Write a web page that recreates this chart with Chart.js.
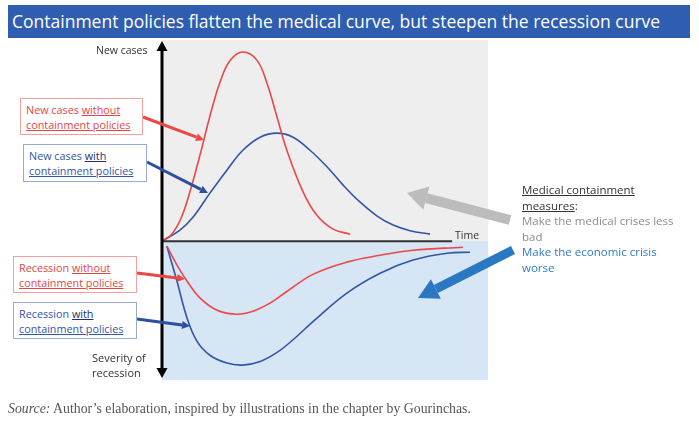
<!DOCTYPE html>
<html>
<head>
<meta charset="utf-8">
<script src="https://cdn.jsdelivr.net/npm/chart.js@4/dist/chart.umd.min.js"></script>
<style>
  body { margin: 0; background: #fff; }
  #wrap { position: relative; width: 699px; height: 434px; overflow: hidden; font-family: "Open Sans", sans-serif; }
  #myChart { position: absolute; left: 0; top: 0; }
  .title { position: absolute; left: 8px; top: 5px; width: 682px; height: 33px; background: #2f5db0;
           color: #fff; font-size: 17.5px; line-height: 33px; padding-left: 4px; box-sizing: border-box; white-space: nowrap; }
  .lbl { position: absolute; font-size: 10.5px; color: #333; white-space: nowrap; line-height: 15px; }
  .box { position: absolute; background: #fff; font-size: 10.8px; line-height: 15px; padding: 3px 5px; box-sizing: border-box; white-space: nowrap; }
  .red { color: #e54545; border: 1px solid #f2a0a0; }
  .blue { color: #3556a6; border: 1px solid #9aabd3; }
  u { text-underline-offset: 1px; }
  .note { position: absolute; left: 522px; top: 182px; font-size: 11.5px; line-height: 15.5px; white-space: nowrap; }
  .source { position: absolute; left: 8px; top: 401px; font-family: "Liberation Serif", serif; font-size: 13.8px; color: #555; white-space: nowrap; }
</style>
</head>
<body>
<div id="wrap">
  <canvas id="myChart" width="699" height="434"></canvas>
  <div class="title">Containment policies flatten the medical curve, but steepen the recession curve</div>

  <div class="lbl" style="left:96px; top:43px;">New cases</div>
  <div class="lbl" style="left:92px; top:350px; font-size:11px;">Severity of<br>recession</div>
  <div class="lbl" style="left:455px; top:228px; font-size:10.5px;">Time</div>

  <div class="box red" style="left:20px; top:98px; width:123px; height:37px;">New cases <u>without</u><br><u>containment policies</u></div>
  <div class="box blue" style="left:23px; top:144px; width:124px; height:38px;">New cases <u style="color:#1f2f70">with</u><br><u>containment policies</u></div>
  <div class="box red" style="left:13px; top:256px; width:124px; height:37px;">Recession <u>without</u><br><u>containment policies</u></div>
  <div class="box blue" style="left:13px; top:302px; width:124px; height:37px;">Recession <u style="color:#1f2f70">with</u><br><u>containment policies</u></div>

  <div class="note">
    <div style="color:#333;"><u>Medical containment</u></div>
    <div style="color:#333;"><u>measures</u>:</div>
    <div style="color:#8c8c8c;">Make the medical crises less</div>
    <div style="color:#8c8c8c;">bad</div>
    <div style="color:#2f7bc2;">Make the economic crisis</div>
    <div style="color:#2f7bc2;">worse</div>
  </div>

  <div class="source"><i>Source:</i> Author’s elaboration, inspired by illustrations in the chapter by Gourinchas.</div>
</div>

<script>
const ctx = document.getElementById('myChart');

// new cases, without containment (time, cases)
const timeCasesNoPolicy = [0, 3, 6, 9, 12, 15, 18, 21, 24.8, 29.1, 32.2, 35.3, 38.3, 43.3, 47.5, 52.5, 57.7]
const casesNoPolicy = [0, 3.5, 12, 27, 45, 64, 80, 90, 94, 90, 78.5, 61.6, 45.2, 24.4, 12.9, 6, 3.5]

// new cases, with containment
const timeCasesPolicy = [0, 5.5, 9.5, 14.7, 19.9, 24.8, 30.1, 35.3, 40.2, 45.4, 50.6, 55.5, 60.7, 66, 70.9, 76.1, 82.2]
const casesPolicy = [0, 5.5, 11.9, 23.9, 35.3, 45.2, 51.7, 53.7, 51.7, 45.2, 37, 28, 19.5, 12.5, 8, 5.2, 3.5]

// recession, without containment (negative = deeper)
const timeRecNoPolicy = [1.5, 4.6, 7.7, 11.7, 16.9, 23, 27.9, 33.1, 38.3, 46.3, 56.7, 66.9, 77, 92.3]
const recNoPolicy = [-2.5, -11.9, -19.9, -28.3, -34.3, -36.3, -34.8, -30.8, -25, -16.5, -10.4, -7, -4.5, -3]

// recession, with containment
const timeRecPolicy = [1.5, 4.6, 7.7, 10.7, 14.7, 19.9, 24.8, 30.1, 35.3, 40.2, 46.3, 56.7, 66.9, 77, 87.4, 94.5]
const recPolicy = [-2.5, -19.9, -38.3, -49.7, -56.7, -60.6, -61.6, -59.8, -55.3, -49, -40, -25.8, -15.9, -9.4, -6, -5.5]

const TIME_AXIS_END = 89

const toPoints = (xs, ys) => xs.map((x, i) => ({ x: x, y: ys[i] }))

const RED = '#ec4747'
const BLUE = '#3454a5'

const drawArrow = (c, x1, y1, x2, y2, width, color, headLen, headW) => {
    const ang = Math.atan2(y2 - y1, x2 - x1)
    const bx = x2 - headLen * Math.cos(ang)
    const by = y2 - headLen * Math.sin(ang)
    c.save()
    c.strokeStyle = color
    c.fillStyle = color
    c.lineWidth = width
    c.beginPath()
    c.moveTo(x1, y1)
    c.lineTo(bx, by)
    c.stroke()
    c.beginPath()
    c.moveTo(x2, y2)
    c.lineTo(bx + headW / 2 * Math.sin(ang), by - headW / 2 * Math.cos(ang))
    c.lineTo(bx - headW / 2 * Math.sin(ang), by + headW / 2 * Math.cos(ang))
    c.closePath()
    c.fill()
    c.restore()
}

const backdrop = {
    id: 'backdrop',
    beforeDatasetsDraw(chart) {
        const { ctx: c, chartArea: a, scales } = chart
        const y0 = scales.y.getPixelForValue(0)
        c.save()
        c.fillStyle = '#eeeeee'
        c.fillRect(a.left, a.top, a.right - a.left, y0 - a.top)
        c.fillStyle = '#d6e6f4'
        c.fillRect(a.left, y0, a.right - a.left, a.bottom - y0)
        c.restore()
    },
    afterDatasetsDraw(chart) {
        const { ctx: c, chartArea: a, scales } = chart
        const x0 = scales.x.getPixelForValue(0)
        const y0 = scales.y.getPixelForValue(0)
        const xEnd = scales.x.getPixelForValue(TIME_AXIS_END)

        // time axis
        c.save()
        c.strokeStyle = '#333'
        c.lineWidth = 2
        c.beginPath()
        c.moveTo(x0, y0)
        c.lineTo(xEnd, y0)
        c.stroke()
        c.restore()

        // vertical axis, arrows both ways
        drawArrow(c, x0, y0, x0, a.top + 1, 3, '#000', 10, 11)
        drawArrow(c, x0, y0, x0, a.bottom - 2, 3, '#000', 10, 11)

        // callout arrows
        drawArrow(c, 143, 117, 204, 140, 3, RED, 8, 8)
        drawArrow(c, 147, 162, 208, 193, 3, '#2e4f9e', 8, 8)
        drawArrow(c, 137, 273, 185, 279, 3, RED, 8, 8)
        drawArrow(c, 137, 319, 190, 326, 3, '#2e4f9e', 8, 8)

        drawArrow(c, 510, 220, 407, 193, 10, '#bcbcbc', 20, 24)
        drawArrow(c, 513, 250, 418, 298, 9, '#2b78c2', 20, 22)
    }
}

const lineStyle = {
    pointRadius: 0,
    borderWidth: 1.6,
    tension: 0.4,
    fill: false,
    clip: false
}

let chart = new Chart(ctx, {
    type: 'line',
    data: {
        datasets: [
            { ...lineStyle, label: 'New cases without containment policies', data: toPoints(timeCasesNoPolicy, casesNoPolicy), borderColor: RED },
            { ...lineStyle, label: 'New cases with containment policies', data: toPoints(timeCasesPolicy, casesPolicy), borderColor: BLUE },
            { ...lineStyle, label: 'Recession without containment policies', data: toPoints(timeRecNoPolicy, recNoPolicy), borderColor: RED },
            { ...lineStyle, label: 'Recession with containment policies', data: toPoints(timeRecPolicy, recPolicy), borderColor: BLUE }
        ]
    },
    options: {
        responsive: false,
        animation: false,
        devicePixelRatio: 1,
        layout: {
            padding: { left: 162, right: 211, top: 40, bottom: 54 }
        },
        plugins: {
            legend: { display: false },
            tooltip: { enabled: false },
            title: { display: false }
        },
        scales: {
            x: { type: 'linear', min: 0, max: 100, display: false },
            y: { type: 'linear', min: -69, max: 100, display: false }
        }
    },
    plugins: [backdrop]
});
</script>
</body>
</html>
